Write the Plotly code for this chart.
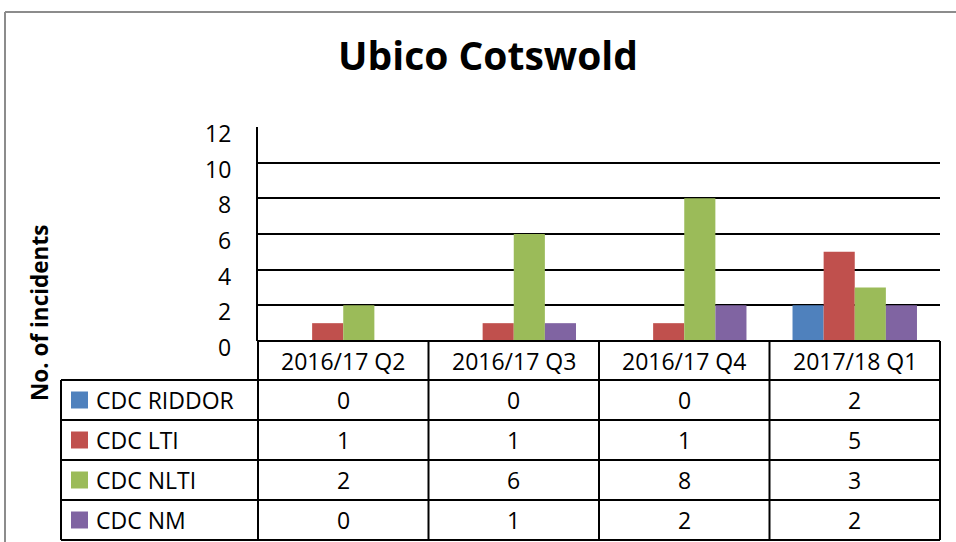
import plotly.graph_objects as go

categories = ["2016/17 Q2", "2016/17 Q3", "2016/17 Q4", "2017/18 Q1"]
series_names = ["CDC RIDDOR", "CDC LTI", "CDC NLTI", "CDC NM"]
riddor = [0, 0, 0, 2]
lti = [1, 1, 1, 5]
nlti = [2, 6, 8, 3]
nm = [0, 1, 2, 2]
series_values = [riddor, lti, nlti, nm]
colors = ["#4F81BD", "#C0504D", "#9BBB59", "#8064A2"]
y_ticks = [0, 2, 4, 6, 8, 10, 12]
title_text = "Ubico Cotswold"
y_title = "No. of incidents"

W, H = 956, 542
L, R, T, B = 258, 940, 127, 341  # plot area in pixels
FONT = "Open Sans"
FS = 23


def px(x):
    return (x - L) / (R - L)


def py(y):
    return (B - y) / (B - T)


fig = go.Figure()
for name, vals, col in zip(series_names, series_values, colors):
    fig.add_trace(go.Bar(name=name, x=categories, y=vals, marker=dict(color=col, line=dict(width=0))))

shapes = []
annotations = []
line = dict(color="#000000", width=2)

# Table horizontal lines
row_tops = [341, 380, 420, 460, 500, 540]
for i, yy in enumerate(row_tops):
    x0 = px(258) if i == 0 else px(61)
    shapes.append(dict(type="line", xref="paper", yref="paper", x0=x0, x1=px(940), y0=py(yy), y1=py(yy), line=line))
# Table vertical lines
for xx in [258, 428.5, 599, 769.5, 940]:
    shapes.append(dict(type="line", xref="paper", yref="paper", x0=px(xx), x1=px(xx), y0=py(341), y1=py(540), line=line))
shapes.append(dict(type="line", xref="paper", yref="paper", x0=px(61), x1=px(61), y0=py(380), y1=py(540), line=line))

txt_font = dict(family=FONT, size=FS, color="#000")

# Y tick labels (Excel places them slightly below the gridline)
for t in y_ticks:
    annotations.append(dict(x=px(233), xref="paper", y=t, yref="y", text=str(t), showarrow=False,
                            xanchor="right", yanchor="middle", yshift=-6, font=txt_font))

# Header labels
for c in categories:
    annotations.append(dict(x=c, xref="x", y=py(361), yref="paper", text=c, showarrow=False,
                            xanchor="center", yanchor="middle", font=txt_font))
# Rows
for r, (name, vals, col) in enumerate(zip(series_names, series_values, colors)):
    yc = 400 + 40 * r
    shapes.append(dict(type="rect", xref="paper", yref="paper", x0=px(71), x1=px(88), y0=py(yc - 8.5), y1=py(yc + 8.5),
                       fillcolor=col, line=dict(width=0)))
    annotations.append(dict(x=px(94), xref="paper", y=py(yc), yref="paper", text=name, showarrow=False,
                            xanchor="left", yanchor="middle", font=txt_font))
    for c, v in zip(categories, vals):
        annotations.append(dict(x=c, xref="x", y=py(yc), yref="paper", text=str(v), showarrow=False,
                                xanchor="center", yanchor="middle", font=txt_font))

# Y axis title
annotations.append(dict(x=px(39), xref="paper", y=py(313), yref="paper", text="<b>" + y_title + "</b>",
                        showarrow=False, textangle=-90, xanchor="center", yanchor="middle",
                        font=dict(family=FONT, size=22.5, color="#000")))

# Outer chart border
shapes.append(dict(type="line", xref="paper", yref="paper", x0=px(5), x1=px(1000), y0=py(12), y1=py(12),
                   line=dict(color="#8C8C8C", width=2)))
shapes.append(dict(type="line", xref="paper", yref="paper", x0=px(5), x1=px(5), y0=py(12), y1=py(600),
                   line=dict(color="#8C8C8C", width=2)))

fig.update_layout(
    width=W, height=H,
    margin=dict(l=L, r=W - R, t=T, b=H - B, pad=0),
    paper_bgcolor="white", plot_bgcolor="white",
    barmode="group", bargap=0.27, bargroupgap=0,
    showlegend=False,
    title=dict(text="<b>" + title_text + "</b>", x=px(488), xref="paper", xanchor="center",
               y=1 - 56 / H, yanchor="middle",
               font=dict(family=FONT, size=39, color="#000")),
    xaxis=dict(showticklabels=False, showgrid=False, zeroline=False, showline=False, ticks=""),
    yaxis=dict(range=[0, 12], tickvals=y_ticks, showticklabels=False, showgrid=True, gridcolor="#000", gridwidth=2,
               showline=True, linecolor="#000", linewidth=2, zeroline=False, ticks=""),
    shapes=shapes, annotations=annotations,
)

fig.write_html("out.html", config={"displayModeBar": False},
               post_script="document.body.style.margin='0';")
